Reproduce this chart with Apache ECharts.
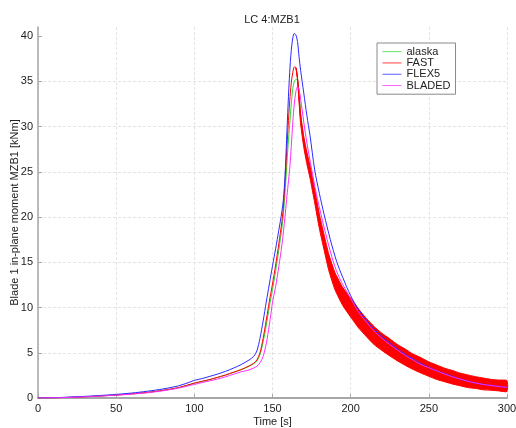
<!DOCTYPE html>
<html>
<head>
<meta charset="utf-8">
<script src="https://cdn.jsdelivr.net/npm/echarts@6/dist/echarts.min.js"></script>
<style>
  html, body { margin: 0; padding: 0; background: #fff; }
  #chart { width: 516px; height: 428px; }
</style>
</head>
<body>
<div id="chart"></div>
<script>
// Blade 1 in-plane moment MZB1 for load case 4, four codes compared.

const seriesNames = ['alaska', 'FAST', 'FLEX5', 'BLADED'];
const xTicks = [0, 50, 100, 150, 200, 250, 300];
const yTicks = [0, 5, 10, 15, 20, 25, 30, 35, 40];

// alaska
const tAlaska = [0, 10, 20, 30, 40, 50, 60, 70, 80, 90, 100, 105, 110, 115, 120, 125, 130, 135, 138, 140, 142, 144, 146, 148, 150, 152, 154, 156, 157, 158, 159, 160, 161, 162, 163, 164, 165, 166, 167, 168, 169, 170, 172, 174, 177, 180, 183, 186, 190, 195, 200, 205, 210, 215, 220, 225, 230, 235, 240, 245, 250, 255, 260, 265, 270, 275, 280, 285, 290, 295, 300];
const vAlaska = [0, 0.02, 0.07, 0.14, 0.23, 0.33, 0.46, 0.62, 0.85, 1.15, 1.62, 1.83, 2.03, 2.28, 2.53, 2.82, 3.12, 3.5, 3.8, 4.1, 4.8, 6.2, 8.0, 10.1, 12.0, 14.0, 16.3, 18.8, 20.4, 22.6, 25.3, 28.0, 30.2, 32.5, 34.2, 35.0, 35.2, 35.1, 33.8, 31.5, 30.0, 28.8, 26.8, 25.2, 22.5, 19.8, 17.4, 15.2, 13.0, 11.3, 10.1, 8.9, 7.9, 7.0, 6.3, 5.7, 5.1, 4.55, 4.05, 3.65, 3.25, 2.9, 2.6, 2.35, 2.1, 1.9, 1.72, 1.58, 1.47, 1.38, 1.3];

// FAST (mean line) and its half spread after the peak
const tFast = [0, 10, 20, 30, 40, 50, 60, 70, 80, 90, 100, 105, 110, 115, 120, 125, 130, 135, 138, 140, 142, 144, 146, 148, 150, 152, 154, 156, 157, 158, 159, 160, 161, 162, 163, 164, 165, 166, 167, 168, 170, 172, 174, 177, 180, 183, 186, 190, 195, 200, 205, 210, 215, 220, 225, 230, 235, 240, 245, 250, 255, 260, 265, 270, 275, 280, 285, 290, 295, 300];
const vFast = [0, 0.02, 0.07, 0.14, 0.23, 0.33, 0.46, 0.62, 0.85, 1.15, 1.65, 1.85, 2.05, 2.3, 2.55, 2.85, 3.15, 3.55, 3.85, 4.2, 5.0, 6.6, 8.6, 10.7, 12.6, 14.7, 17.0, 19.5, 21.2, 23.8, 27.0, 30.0, 32.8, 34.8, 36.0, 36.6, 36.5, 35.3, 33.0, 30.8, 28.3, 26.5, 25.0, 22.3, 19.5, 17.2, 15.0, 12.9, 11.2, 10.0, 8.8, 7.8, 6.9, 6.2, 5.6, 5.0, 4.5, 4.0, 3.6, 3.2, 2.85, 2.55, 2.3, 2.05, 1.85, 1.7, 1.55, 1.45, 1.38, 1.32];
const sFast = [0, 0, 0, 0, 0, 0, 0, 0, 0, 0, 0, 0, 0, 0, 0, 0, 0, 0, 0, 0, 0, 0, 0, 0, 0, 0, 0, 0, 0, 0, 0, 0, 0, 0, 0, 0, 0, 0.15, 0.35, 0.5, 0.6, 0.65, 0.7, 0.75, 0.8, 0.85, 0.9, 0.95, 1.0, 1.05, 1.05, 1.0, 1.0, 0.95, 0.95, 0.9, 0.9, 0.85, 0.85, 0.8, 0.8, 0.75, 0.75, 0.7, 0.7, 0.65, 0.65, 0.6, 0.6, 0.6];

// FLEX5
const tFlex = [0, 10, 20, 30, 40, 50, 60, 70, 80, 90, 97, 100, 105, 110, 115, 120, 125, 130, 135, 138, 140, 142, 144, 146, 148, 150, 152, 154, 156, 157, 158, 159, 160, 161, 162, 163, 164, 165, 166, 167, 168, 170, 172, 174, 177, 180, 183, 187, 191, 195, 200, 205, 210, 215, 220, 225, 230, 235, 240, 245, 250, 255, 260, 265, 270, 275, 280, 285, 290, 295, 300];
const vFlex = [0, 0.03, 0.1, 0.18, 0.28, 0.4, 0.55, 0.75, 1.0, 1.35, 1.75, 1.95, 2.15, 2.4, 2.65, 2.95, 3.3, 3.7, 4.2, 4.6, 5.2, 6.6, 8.5, 10.6, 12.6, 14.6, 16.5, 18.5, 20.6, 22.0, 24.5, 28.5, 32.5, 36.0, 38.4, 39.8, 40.3, 40.1, 39.4, 37.7, 36.2, 33.7, 31.2, 29.0, 25.2, 22.6, 20.3, 17.5, 15.1, 13.3, 11.3, 9.8, 8.6, 7.6, 6.8, 6.1, 5.4, 4.8, 4.3, 3.8, 3.4, 3.0, 2.7, 2.4, 2.1, 1.85, 1.65, 1.5, 1.38, 1.27, 1.17];

// BLADED
const tBladed = [0, 10, 20, 30, 40, 50, 60, 70, 80, 90, 100, 105, 110, 115, 120, 125, 130, 135, 140, 142, 144, 146, 147, 148, 149, 150, 152, 154, 156, 158, 159, 160, 161, 162, 163, 164, 165, 166, 167, 168, 169, 170, 172, 175, 178, 181, 185, 189, 193, 200, 205, 210, 215, 220, 225, 230, 235, 240, 245, 250, 255, 260, 265, 270, 275, 280, 285, 290, 295, 300];
const vBladed = [0, 0.02, 0.06, 0.13, 0.21, 0.31, 0.43, 0.58, 0.8, 1.1, 1.5, 1.7, 1.9, 2.1, 2.35, 2.62, 2.9, 3.1, 3.5, 3.9, 4.6, 6.0, 7.0, 8.1, 9.3, 10.6, 12.3, 14.5, 16.9, 20.0, 21.9, 23.6, 25.3, 27.8, 30.5, 32.6, 33.9, 34.4, 34.1, 33.0, 31.8, 30.5, 28.2, 25.3, 22.6, 20.3, 17.5, 15.0, 13.2, 11.0, 9.5, 8.4, 7.4, 6.6, 5.9, 5.3, 4.7, 4.2, 3.7, 3.35, 3.0, 2.65, 2.35, 2.1, 1.85, 1.65, 1.5, 1.37, 1.27, 1.18];

const colors = { alaska: '#2fd62f', FAST: '#ff0000', FLEX5: '#2a2aff', BLADED: '#ff2cff' };
const FONT = '"Liberation Sans", Arial, Helvetica, sans-serif';

const pairs = (t, v) => t.map((x, i) => [x, v[i]]);

function curve(name, t, v, z) {
  return {
    name: name,
    type: 'line',
    data: pairs(t, v),
    symbol: 'none',
    smooth: 0.3,
    z: z,
    color: colors[name],
    lineStyle: { color: colors[name], width: 1 },
    itemStyle: { color: colors[name] },
    emphasis: { disabled: true }
  };
}

// Spread band for FAST: upper edge forward, lower edge back, only where spread > 0
const bandIdx = tFast.map((x, i) => i).filter(i => sFast[i] > 0 || (i + 1 < sFast.length && sFast[i + 1] > 0));
const bandUpper = bandIdx.map(i => [tFast[i], vFast[i] + sFast[i]]);
const bandLower = bandIdx.map(i => [tFast[i], vFast[i] - sFast[i]]);

const chart = echarts.init(document.getElementById('chart'), null, { renderer: 'canvas' });

chart.setOption({
  animation: false,
  backgroundColor: '#fff',
  textStyle: { fontFamily: FONT },
  title: {
    text: 'LC 4:MZB1',
    left: 267,
    top: 9,
    textAlign: 'center',
    textStyle: { fontFamily: FONT, fontSize: 11, fontWeight: 'normal', color: '#222' }
  },
  legend: {
    data: seriesNames,
    orient: 'vertical',
    left: 377,
    top: 43,
    padding: [3, 5, 3, 5],
    itemGap: 0,
    itemWidth: 19,
    itemHeight: 11,
    backgroundColor: '#fff',
    borderColor: '#8a8a8a',
    borderWidth: 1,
    borderRadius: 0,
    selectedMode: false,
    itemStyle: { opacity: 0 },
    lineStyle: { width: 1, opacity: 0.75 },
    textStyle: { fontFamily: FONT, fontSize: 11, color: '#222', lineHeight: 11.3 }
  },
  grid: { left: 38, right: 9, top: 27, bottom: 30, containLabel: false, outerBoundsMode: 'none' },
  xAxis: {
    type: 'value',
    min: 0,
    max: 300,
    interval: 50,
    name: 'Time [s]',
    nameLocation: 'middle',
    nameGap: 18,
    nameMoveOverlap: false,
    nameTextStyle: { fontFamily: FONT, fontSize: 11, color: '#222' },
    axisLine: { show: true, onZero: false, lineStyle: { color: '#a6a6a6', width: 2 } },
    axisTick: { show: true, inside: true, length: 4, lineStyle: { color: '#a6a6a6' } },
    axisLabel: { fontFamily: FONT, fontSize: 11, color: '#222', margin: 5,
      formatter: v => (xTicks.indexOf(v) >= 0 ? String(v) : '') },
    splitLine: { show: true, lineStyle: { color: '#e4e4e4', type: [3, 2], width: 1 } }
  },
  yAxis: {
    type: 'value',
    min: 0,
    max: 41,
    interval: 5,
    name: 'Blade 1 in-plane moment MZB1 [kNm]',
    nameLocation: 'middle',
    nameGap: 18,
    nameMoveOverlap: false,
    nameTextStyle: { fontFamily: FONT, fontSize: 11, color: '#222' },
    axisLine: { show: true, onZero: false, lineStyle: { color: '#a6a6a6', width: 1.5 } },
    axisTick: { show: true, inside: true, length: 4, customValues: yTicks, lineStyle: { color: '#a6a6a6' } },
    axisLabel: { fontFamily: FONT, fontSize: 11, color: '#222', margin: 5, showMaxLabel: false,
      formatter: v => (yTicks.indexOf(v) >= 0 ? String(v) : '') },
    splitLine: { show: true, showMaxLine: false, lineStyle: { color: '#e4e4e4', type: [3, 2], width: 1 } }
  },
  series: [
    curve('alaska', tAlaska, vAlaska, 2),
    curve('FAST', tFast, vFast, 3),
    {
      name: 'FAST spread',
      type: 'custom',
      coordinateSystem: 'cartesian2d',
      data: [[0, 0]],
      z: 3,
      silent: true,
      renderItem: function (params, api) {
        const pts = bandUpper.map(p => api.coord(p))
          .concat(bandLower.slice().reverse().map(p => api.coord(p)));
        return {
          type: 'polygon',
          shape: { points: pts, smooth: 0.2 },
          style: { fill: colors.FAST, stroke: colors.FAST, lineWidth: 1 }
        };
      }
    },
    curve('FLEX5', tFlex, vFlex, 4),
    curve('BLADED', tBladed, vBladed, 5)
  ]
});
</script>
</body>
</html>
